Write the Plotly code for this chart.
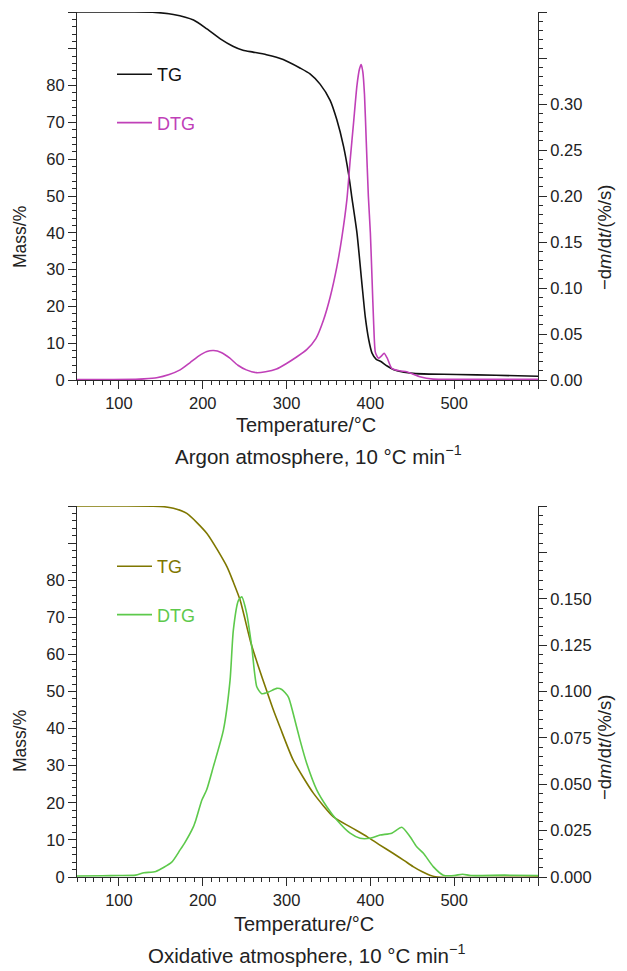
import plotly.graph_objects as go

# ---------------- data ----------------
# Argon atmosphere
ar_tg_T = [50, 100, 140, 165, 189, 205, 221, 236, 248, 260, 276, 296, 316, 328, 340,
           352, 360, 368, 374, 378, 384, 390, 394, 398, 402, 407, 412, 420, 428, 440,
           451, 470, 503, 550, 600]
ar_tg_m = [100, 100, 99.95, 99.3, 97.8, 95.4, 92.7, 90.7, 89.6, 89.1, 88.4, 87.1, 84.8, 83.2, 80.4,
           76.0, 70.7, 63.5, 56.0, 49.5, 40.0, 26.0, 17.0, 11.0, 7.3, 5.6, 5.1, 3.8, 2.8, 2.1,
           1.8, 1.6, 1.5, 1.3, 1.0]

ar_dtg_T = [50, 80, 120, 130, 145, 160, 173, 185, 195, 205, 213, 222, 232, 242, 252, 264,
            275, 288, 300, 312, 324, 335, 344, 352, 360, 366, 372, 376, 380, 384, 387, 389,
            391, 393, 395, 397.6, 400, 402, 404, 406, 409.6, 413, 416.4, 420, 425.5, 435,
            443.4, 452, 459, 475, 520, 600]
ar_dtg_v = [0.0005, 0.0006, 0.0007, 0.0012, 0.0025, 0.006, 0.011, 0.019, 0.026, 0.031, 0.032, 0.030,
            0.024, 0.016, 0.011, 0.008, 0.009, 0.012, 0.018, 0.025, 0.033, 0.045, 0.065, 0.090,
            0.123, 0.155, 0.196, 0.240, 0.280, 0.320, 0.338, 0.343, 0.335, 0.310, 0.262, 0.200,
            0.160, 0.110, 0.060, 0.030, 0.0236, 0.026, 0.029, 0.024, 0.0127, 0.010, 0.009, 0.006,
            0.0036, 0.001, 0.0008, 0.0008]

# Oxidative atmosphere
ox_tg_T = [50, 100, 149, 165, 181, 205, 229, 236.5, 244.5, 257, 266, 276, 284, 292, 308,
           332, 356, 376, 396, 410, 427, 440, 451, 462, 471, 480, 600]
ox_tg_m = [100, 100, 99.9, 99.4, 98.0, 92.6, 83.6, 79.5, 74.7, 63.5, 57.0, 50.4, 45.2, 40.5, 31.5,
           22.6, 16.2, 13.5, 10.9, 8.8, 6.4, 4.5, 2.8, 1.4, 0.5, 0.0, 0.0]

ox_dtg_T = [50, 80, 100, 120, 130, 144, 163, 173, 178, 188.8, 192, 199, 204.7, 212.7, 224.6,
            232.6, 236.5, 242.5, 246.5, 252.5, 258.5, 264.5, 270.4, 278.4, 288.3, 294.3,
            302.2, 308, 316, 324, 336, 348, 360, 375.8, 387.7, 399.6, 411.6, 425.5, 437.5,
            447.4, 455.3, 463.3, 475, 487, 500, 510, 520, 560, 600]
ox_dtg_v = [0.0005, 0.0007, 0.0008, 0.001, 0.0023, 0.003, 0.008, 0.0146, 0.018, 0.027, 0.031,
            0.0415, 0.047, 0.0595, 0.079, 0.106, 0.133, 0.149, 0.151, 0.142, 0.124, 0.1026,
            0.0988, 0.0997, 0.1017, 0.1011, 0.097, 0.088, 0.0739, 0.0613, 0.047, 0.0379,
            0.0307, 0.0236, 0.0209, 0.0209, 0.0226, 0.0236, 0.0268, 0.0217, 0.0163, 0.0128,
            0.0056, 0.001, 0.0008, 0.0015, 0.0008, 0.001, 0.0008]

# labelled major ticks
x_ticks = [100, 200, 300, 400, 500]
mass_ticks = [0, 10, 20, 30, 40, 50, 60, 70, 80]
ar_rate_ticks = [0, 0.05, 0.10, 0.15, 0.20, 0.25, 0.30]
ar_rate_text = ["0.00", "0.05", "0.10", "0.15", "0.20", "0.25", "0.30"]
ox_rate_ticks = [0, 0.025, 0.05, 0.075, 0.10, 0.125, 0.15]
ox_rate_text = ["0.000", "0.025", "0.050", "0.075", "0.100", "0.125", "0.150"]
# unlabelled major ticks
x_ticks_bare = [600]
mass_ticks_bare = [90, 100]
ar_rate_bare = [0.35, 0.40]
ox_rate_bare = [0.175, 0.20]

# ---------------- styling ----------------
W, H = 627, 971
FONT = "Liberation Sans, Arial, Helvetica, sans-serif"
AX = "#2a2a2a"
TXT = "#222222"
C_AR_TG = "#111111"
C_AR_DTG = "#C040B8"
C_OX_TG = "#7F7700"
C_OX_DTG = "#5DC94B"
TICK_FS = 16.5

xl, xr = 77 / W, 538 / W
top_dom = [1 - 380 / H, 1 - 12 / H]
bot_dom = [1 - 877 / H, 1 - 506 / H]

fig = go.Figure()
fig.add_trace(go.Scatter(x=ar_tg_T, y=ar_tg_m, mode="lines", xaxis="x", yaxis="y",
                         line=dict(color=C_AR_TG, width=1.6, shape="spline", smoothing=0.6),
                         name=f"<span style='color:{C_AR_TG}'>TG</span>",
                         legend="legend", legendgroup="a1"))
fig.add_trace(go.Scatter(x=ar_dtg_T, y=ar_dtg_v, mode="lines", xaxis="x", yaxis="y2",
                         line=dict(color=C_AR_DTG, width=1.6, shape="spline", smoothing=0.6),
                         name=f"<span style='color:{C_AR_DTG}'>DTG</span>",
                         legend="legend", legendgroup="a2"))
fig.add_trace(go.Scatter(x=ox_tg_T, y=ox_tg_m, mode="lines", xaxis="x2", yaxis="y3",
                         line=dict(color=C_OX_TG, width=1.6, shape="spline", smoothing=0.6),
                         name=f"<span style='color:{C_OX_TG}'>TG</span>",
                         legend="legend2", legendgroup="b1"))
fig.add_trace(go.Scatter(x=ox_dtg_T, y=ox_dtg_v, mode="lines", xaxis="x2", yaxis="y4",
                         line=dict(color=C_OX_DTG, width=1.6, shape="spline", smoothing=0.6),
                         name=f"<span style='color:{C_OX_DTG}'>DTG</span>",
                         legend="legend2", legendgroup="b2"))
# empty helper traces so that the tick-only overlay axes get drawn
for xa, ya in [("x3", "y5"), ("x", "y6"), ("x4", "y7"), ("x2", "y8")]:
    fig.add_trace(go.Scatter(x=[], y=[], xaxis=xa, yaxis=ya, mode="lines",
                             showlegend=False, hoverinfo="skip"))


def base_ax():
    return dict(ticks="outside", ticklen=8, tickwidth=1, tickcolor=AX, showgrid=False,
                zeroline=False, automargin=False, tickfont=dict(size=TICK_FS, color=TXT))


def xax(anchor):
    d = base_ax()
    d.update(domain=[xl, xr], anchor=anchor, range=[50, 600], showline=True,
             linecolor=AX, linewidth=1, tickmode="array", tickvals=x_ticks,
             ticktext=[str(v) for v in x_ticks],
             minor=dict(ticks="outside", ticklen=4, tickwidth=1, tickcolor=AX,
                        tickmode="linear", tick0=0, dtick=10))
    return d


def yax(dom, anchor, rng, tv, tt, mdt, side="left", overlay=None):
    d = base_ax()
    d.update(domain=dom, anchor=anchor, range=rng, side=side, showline=True,
             linecolor=AX, linewidth=1, tickmode="array", tickvals=tv, ticktext=tt,
             minor=dict(ticks="outside", ticklen=4, tickwidth=1, tickcolor=AX,
                        tickmode="linear", tick0=0, dtick=mdt))
    if overlay:
        d["overlaying"] = overlay
    return d


def bare_ax(overlay, anchor, rng, tv, side):
    d = base_ax()
    d.update(overlaying=overlay, anchor=anchor, range=rng, side=side, showline=False,
             tickmode="array", tickvals=tv, showticklabels=False)
    return d


legend_common = dict(xanchor="left", yanchor="top", bgcolor="rgba(0,0,0,0)",
                     borderwidth=0, font=dict(family=FONT, size=18, color=TXT),
                     tracegroupgap=22, itemwidth=35)

fig.update_layout(
    width=W, height=H, margin=dict(l=0, r=0, t=0, b=0, pad=0, autoexpand=False),
    paper_bgcolor="white", plot_bgcolor="white",
    font=dict(family=FONT, size=16, color=TXT),
    showlegend=True,
    xaxis=xax("y"),
    yaxis=yax(top_dom, "x", [0, 100], mass_ticks, [str(v) for v in mass_ticks], 2),
    yaxis2=yax(top_dom, "x", [0, 0.4], ar_rate_ticks, ar_rate_text, 0.01, side="right", overlay="y"),
    xaxis2=xax("y3"),
    yaxis3=yax(bot_dom, "x2", [0, 100], mass_ticks, [str(v) for v in mass_ticks], 2),
    yaxis4=yax(bot_dom, "x2", [0, 0.2], ox_rate_ticks, ox_rate_text, 0.005, side="right", overlay="y3"),
    xaxis3=bare_ax("x", "y", [50, 600], x_ticks_bare, "bottom"),
    yaxis5=bare_ax("y", "x", [0, 100], mass_ticks_bare, "left"),
    yaxis6=bare_ax("y", "x", [0, 0.4], ar_rate_bare, "right"),
    xaxis4=bare_ax("x2", "y3", [50, 600], x_ticks_bare, "bottom"),
    yaxis7=bare_ax("y3", "x2", [0, 100], mass_ticks_bare, "left"),
    yaxis8=bare_ax("y3", "x2", [0, 0.2], ox_rate_bare, "right"),
    legend=dict(x=112 / W, y=1 - 56 / H, **legend_common),
    legend2=dict(x=112 / W, y=1 - 548 / H, **legend_common),
)

ann = []


def txt(s, x, y, size, angle=0):
    ann.append(dict(text=s, x=x / W, y=1 - y / H, xref="paper", yref="paper",
                    xanchor="center", yanchor="middle", showarrow=False,
                    textangle=angle, font=dict(family=FONT, size=size, color=TXT)))


txt("Mass/%", 20, 237, 17.5, -90)
txt("−d<i>m</i>/d<i>t</i>/(%/s)", 604, 238, 18.5, -90)
txt("Temperature/°C", 306, 425, 20)
txt("Argon atmosphere, 10 °C min<sup>−1</sup>", 318, 455, 20.5)
txt("Mass/%", 20, 741, 17.5, -90)
txt("−d<i>m</i>/d<i>t</i>/(%/s)", 604, 748, 18.5, -90)
txt("Temperature/°C", 304, 924, 20)
txt("Oxidative atmosphere, 10 °C min<sup>−1</sup>", 306, 954, 20.5)
fig.update_layout(annotations=ann)

post = (
    "var s=document.documentElement.style;s.margin='0';s.padding='0';s.overflow='hidden';"
    "s.height='971px';"
    "var b=document.body.style;b.margin='0';b.padding='0';b.overflow='hidden';b.height='971px';"
)
fig.write_html("out.html", config={"displayModeBar": False}, post_script=post)
